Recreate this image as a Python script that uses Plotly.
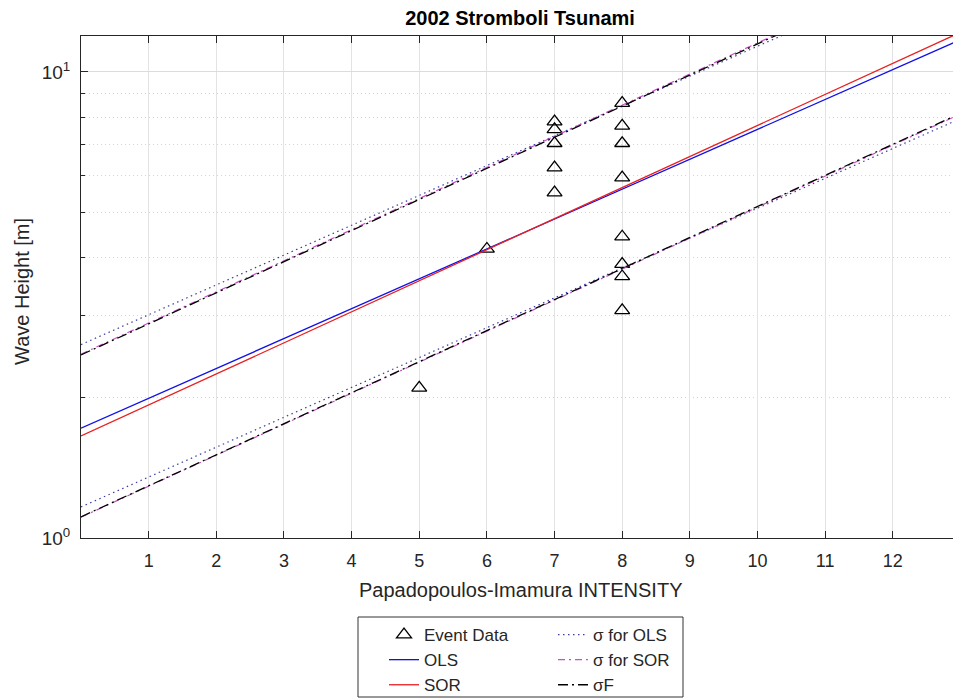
import plotly.graph_objects as go

# ---- data ----
event_intensity = [5, 6, 7, 7, 7, 7, 7, 8, 8, 8, 8, 8, 8, 8, 8]
event_height = [2.10, 4.17, 7.82, 7.53, 7.03, 6.23, 5.51,
                8.57, 7.66, 7.03, 5.93, 4.43, 3.87, 3.64, 3.08]

line_x = [0, 13]
ols_line = [1.72, 11.72]
sor_line = [1.655, 12.16]
sigma_ols_upper = [2.60, 17.66]
sigma_ols_lower = [1.166, 7.94]
sigma_sor_upper = [2.48, 18.3]
sigma_sor_lower = [1.108, 8.12]
sigma_f_upper = [2.47, 18.2]
sigma_f_lower = [1.11, 8.15]

x_ticks = list(range(1, 13))
y_major = [1, 10]
y_major_text = ["10<sup>0</sup>", "10<sup>1</sup>"]
y_minor = [2, 3, 4, 5, 6, 7, 8, 9]

FONT = "Liberation Sans, Arial, sans-serif"
AX = "#262626"

DOT = "1.5px,3.5px"
DASHDOT_M = "7px,4px,2px,4px"
DASHDOT_K = "10px,4px,2px,4px"

fig = go.Figure()

fig.add_trace(go.Scatter(x=event_intensity, y=event_height, mode="markers", name="Event Data",
                         marker=dict(symbol="triangle-up-open", size=13, color="black",
                                     line=dict(width=1.3, color="black")),
                         legend="legend"))
fig.add_trace(go.Scatter(x=line_x, y=sigma_ols_upper, mode="lines", name="σ for OLS",
                         line=dict(color="#3c3ca0", width=1.2, dash=DOT), legend="legend2"))
fig.add_trace(go.Scatter(x=line_x, y=sigma_ols_lower, mode="lines", showlegend=False,
                         line=dict(color="#3c3ca0", width=1.2, dash=DOT), legend="legend2"))
fig.add_trace(go.Scatter(x=line_x, y=sigma_sor_upper, mode="lines", name="σ for SOR",
                         line=dict(color="#c850c8", width=1.2, dash=DASHDOT_M), legend="legend2"))
fig.add_trace(go.Scatter(x=line_x, y=sigma_sor_lower, mode="lines", showlegend=False,
                         line=dict(color="#c850c8", width=1.2, dash=DASHDOT_M), legend="legend2"))
fig.add_trace(go.Scatter(x=line_x, y=sigma_f_upper, mode="lines", name="σF",
                         line=dict(color="black", width=1.3, dash=DASHDOT_K), legend="legend2"))
fig.add_trace(go.Scatter(x=line_x, y=sigma_f_lower, mode="lines", showlegend=False,
                         line=dict(color="black", width=1.3, dash=DASHDOT_K), legend="legend2"))
fig.add_trace(go.Scatter(x=line_x, y=ols_line, mode="lines", name="OLS",
                         line=dict(color="#1010e8", width=1.3), legend="legend"))
fig.add_trace(go.Scatter(x=line_x, y=sor_line, mode="lines", name="SOR",
                         line=dict(color="#e82020", width=1.3), legend="legend"))

L, T, B = 81, 36, 538
W, H = 953, 700
pw = W - L
ph = B - T

def px_x(p):
    return (p - L) / pw

def px_y(p):
    return (B - p) / ph

fig.update_layout(
    width=W, height=H,
    margin=dict(l=L, r=0, t=T, b=H - B, pad=0, autoexpand=False),
    paper_bgcolor="white", plot_bgcolor="white",
    font=dict(family=FONT, color=AX, size=16),
    title=dict(text="2002 Stromboli Tsunami", xref="container", x=520 / W, xanchor="center",
               yref="container", y=1 - 18 / H, yanchor="middle",
               font=dict(family=FONT, size=20, color="black", weight="bold")),
    xaxis=dict(range=[0, 12.89], tickvals=x_ticks, ticks="inside", ticklen=7, tickcolor=AX,
               showline=True, linecolor=AX, linewidth=1, mirror="ticks", automargin=False,
               showgrid=True, gridcolor="#e3e3e3", gridwidth=1, zeroline=False,
               tickfont=dict(size=18, color=AX), ticklabelstandoff=6),
    yaxis=dict(type="log", range=[0, 1.077], tickvals=y_major, ticktext=y_major_text,
               ticks="inside", ticklen=7, tickcolor=AX, automargin=False,
               showline=True, linecolor=AX, linewidth=1, mirror=False,
               showgrid=True, gridcolor="#dcdcdc", gridwidth=1, zeroline=False,
               tickfont=dict(size=19, color=AX), ticklabelstandoff=6,
               minor=dict(tickvals=y_minor, ticks="inside", ticklen=4, tickcolor=AX,
                          showgrid=True, gridcolor="#d4d4d4", griddash="1px,3px", gridwidth=1)),
    legend=dict(xref="container", yref="container", x=384 / W, y=1 - 617 / H,
                xanchor="left", yanchor="top", bgcolor="rgba(0,0,0,0)",
                font=dict(size=17, color=AX), tracegroupgap=0, itemwidth=30),
    legend2=dict(xref="container", yref="container", x=553 / W, y=1 - 617 / H,
                 xanchor="left", yanchor="top", bgcolor="rgba(0,0,0,0)",
                 font=dict(size=17, color=AX), tracegroupgap=0, itemwidth=30),
    shapes=[dict(type="rect", xref="paper", yref="paper",
                 x0=px_x(358), x1=px_x(683), y0=px_y(697), y1=px_y(617),
                 line=dict(color="#333333", width=1), fillcolor="rgba(0,0,0,0)")],
    annotations=[
        dict(text="Papadopoulos-Imamura INTENSITY", xref="paper", yref="paper",
             x=px_x(520), y=px_y(590), xanchor="center", yanchor="middle",
             showarrow=False, font=dict(size=20, color=AX)),
        dict(text="Wave Height [m]", xref="paper", yref="paper",
             x=px_x(22), y=px_y(292), xanchor="center", yanchor="middle", textangle=-90,
             showarrow=False, font=dict(size=20, color=AX)),
    ],
)

fig.write_html("out.html")
